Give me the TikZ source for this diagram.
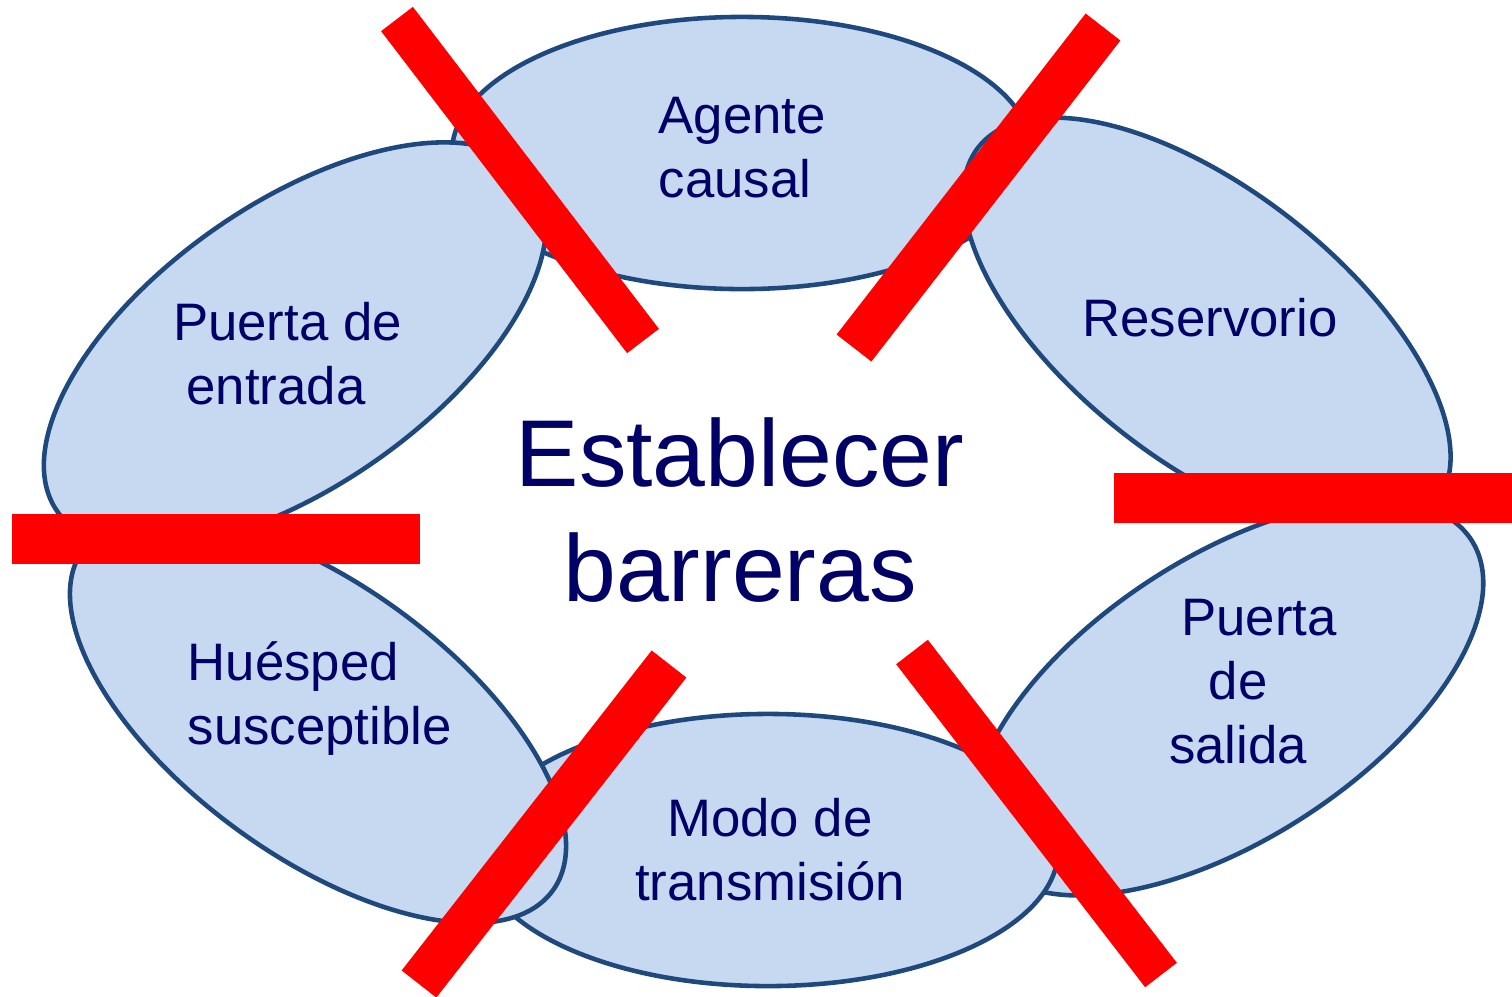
\documentclass[tikz,border=0pt]{standalone}
\usepackage{fontspec}
\setmainfont{Liberation Sans}
\usetikzlibrary{shapes.geometric}
\tikzset{
    Ring/.style = {
        ellipse,
        draw=ringLine,
        fill=ringFill,
        line width=1.3pt,
        minimum width=5.8cm,
        minimum height=2.72cm,
        inner sep=0pt
    },
    Barrier/.style = {
        draw=barRed,
        line width=#1
    },
    Barrier/.default={0.4cm},
    Label/.style = {
        text=labelText,
        font=\fontsize{15pt}{18.2pt}\selectfont,
        inner sep=0pt
    }
}
\definecolor{ringFill}{HTML}{C6D9F1}
\definecolor{ringLine}{HTML}{1F497D}
\definecolor{labelText}{HTML}{000066}
\definecolor{barRed}{HTML}{FF0000}

\begin{document}
\begin{tikzpicture}[x=0.01cm, y=-0.01cm]
    \useasboundingbox (0,0) rectangle (1512,996);
    % the six links of the chain
    \node[Ring] (agenteRing) at (742,153) {};
    \node[Ring, rotate=-38] (reservorioRing) at (1207,326) {};
    \node[Ring, rotate=33, minimum height=2.82cm] (salidaRing) at (1228,698) {};
    \node[Ring] (modoRing) at (768,850) {};
    \node[Ring, rotate=-36] (huespedRing) at (318,720) {};
    \node[Ring, rotate=35, minimum height=2.82cm] (entradaRing) at (295,345) {};
    % labels
    \node[Label, anchor=west, align=left] (agente) at (658,147.5) {Agente\\causal};
    \node[Label] (reservorio) at (1210,317.5) {Reservorio};
    \node[Label, align=center] (salida) at (1238,681.5) {\hspace*{0.42cm}Puerta\\de\\salida};
    \node[Label, align=center] (modo) at (770,850) {Modo de\\transmisión};
    \node[Label, anchor=west, align=left] (huesped) at (187,698.5) {Huésped\\susceptible};
    \node[Label, align=center] (entrada) at (276,354) {\hspace*{0.23cm}Puerta de\\entrada};
    \node[Label, align=center, font=\fontsize{27pt}{32.7pt}\selectfont] (centro) at (740,510) {Establecer\\barreras};
    % the barriers
    \draw[Barrier] (397,19) -- (643,341);
    \draw[Barrier=0.44cm] (1103,27) -- (854,348);
    \draw[Barrier=0.5cm] (1114,498) -- (1530,498);
    \draw[Barrier=0.5cm] (12,538.5) -- (420,538.5);
    \draw[Barrier=0.44cm] (669,664) -- (419,984);
    \draw[Barrier] (912,652) -- (1161,975);
\end{tikzpicture}
\end{document}
